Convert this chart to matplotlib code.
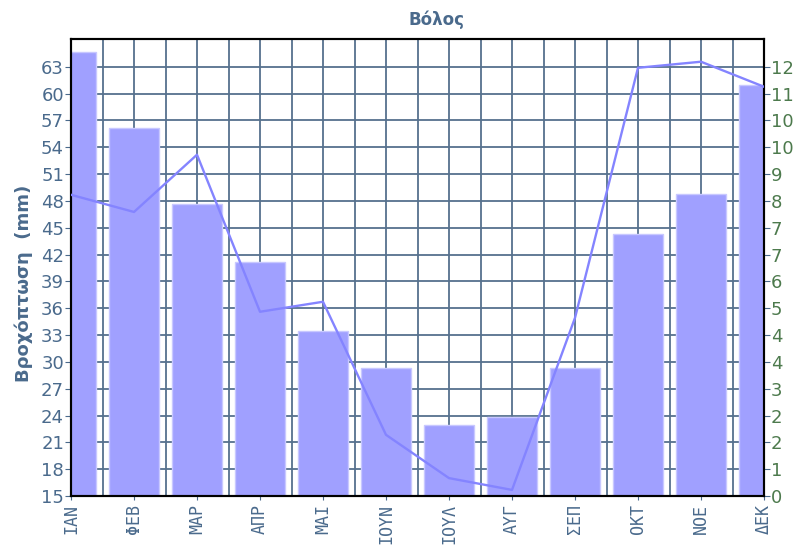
import numpy as np
import matplotlib.pyplot as plt

# monthly data
months = ["ΙΑΝ", "ΦΕΒ", "ΜΑΡ", "ΑΠΡ", "ΜΑΙ", "ΙΟΥΝ",
          "ΙΟΥΛ", "ΑΥΓ", "ΣΕΠ", "ΟΚΤ", "ΝΟΕ", "ΔΕΚ"]
rain_mm = [64.7, 56.1, 47.7, 41.2, 33.5, 29.3, 22.9, 23.8, 29.3, 44.3, 48.8, 61.0]
line_vals = [8.42, 7.94, 9.54, 5.15, 5.43, 1.71, 0.50, 0.17, 4.98, 11.97, 12.14, 11.44]

left_ticks = list(range(15, 64, 3))
right_tick_labels = ["0", "1", "2", "2", "3", "4", "4", "5", "6",
                     "7", "7", "8", "9", "10", "10", "11", "12"]

grid_col = "#56718d"
left_col = "#4a6a8c"
right_col = "#4d7a4d"
bar_col = "#a0a0ff"
line_col = "#8484ff"

fig = plt.figure(figsize=(7.99, 5.48), dpi=100)
ax = fig.add_axes([71/799, 1 - 496/548, (764-71)/799, (496-39)/548])

x = np.arange(len(months))
ax.set_axisbelow(True)
ax.bar(x, rain_mm, width=0.8, color=bar_col, edgecolor="#c8c8ff", linewidth=1.0, zorder=2)

ax.set_xlim(0, 11)
ax.set_ylim(15, 66.1)
ax.set_xticks(x)
ax.set_xticklabels(months, rotation=90, fontsize=12, color=left_col, family="DejaVu Sans Mono")
ax.set_xticks(np.arange(0.5, 11, 1), minor=True)
ax.set_yticks(left_ticks)
ax.set_yticklabels([str(v) for v in left_ticks], fontsize=13, color=left_col)
ax.tick_params(axis="x", which="major", length=3, color=left_col, pad=3)
ax.tick_params(axis="x", which="minor", length=0)
ax.tick_params(axis="y", length=4, color=left_col, pad=1)
ax.grid(True, which="both", color=grid_col, linewidth=1.3)
for s in ax.spines.values():
    s.set_linewidth(1.5)
    s.set_color("black")

ax.set_ylabel("Βροχόπτωση  (mm)", fontsize=13, fontweight="bold", color=left_col)
ax.yaxis.set_label_coords(-0.055, 0.465)

# right axis (line series), drawn over the bars
ax2 = ax.twinx()
ax2.set_ylim(0, (66.1 - 15) * 0.25)
ax2.plot(x, line_vals, color=line_col, linewidth=1.7, zorder=3)
right_ticks = [(v - 15) * 0.25 for v in left_ticks]
ax2.set_yticks(right_ticks)
ax2.set_yticklabels(right_tick_labels, fontsize=13, color=right_col)
ax2.tick_params(axis="y", length=4, color=left_col, pad=1)
for s in ax2.spines.values():
    s.set_linewidth(1.5)

fig.text(437/799, 1 - 20/548, "Βόλος", ha="center", va="center",
         fontsize=12, fontweight="bold", color=left_col)

fig.savefig("out.png", dpi=100)
